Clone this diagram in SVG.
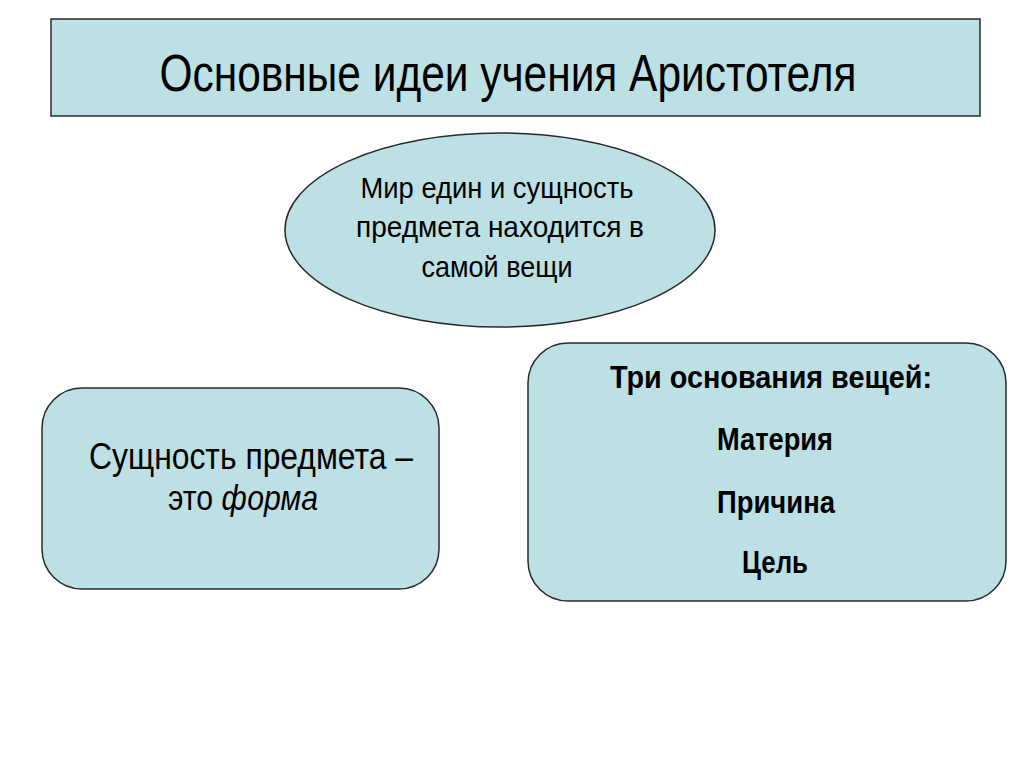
<svg xmlns="http://www.w3.org/2000/svg" width="1024" height="767" viewBox="0 0 1024 767">
<style>
.box{fill:#BCE0E3;stroke:#2a2a2a;stroke-width:1.5}
.t{font-family:"Liberation Sans",Arial,sans-serif;fill:#000;text-anchor:middle}
.b{font-weight:bold}
</style>
<rect width="1024" height="767" fill="#fff"/>
<g id="title">
<rect class="box" x="51" y="19" width="929" height="97"/>
<text class="t" x="508" y="91" font-size="52" textLength="697" lengthAdjust="spacingAndGlyphs">Основные идеи учения Аристотеля</text>
</g>
<g id="world">
<ellipse class="box" cx="500" cy="230" rx="215" ry="97"/>
<text class="t" x="497" y="198" font-size="30" textLength="273" lengthAdjust="spacingAndGlyphs">Мир един и сущность</text>
<text class="t" x="500" y="237" font-size="30" textLength="288" lengthAdjust="spacingAndGlyphs">предмета находится в</text>
<text class="t" x="497" y="277" font-size="30" textLength="151" lengthAdjust="spacingAndGlyphs">самой вещи</text>
</g>
<g id="essence">
<rect class="box" x="42" y="388" width="397" height="201" rx="40"/>
<text class="t" x="251" y="469" font-size="36" textLength="324" lengthAdjust="spacingAndGlyphs">Сущность предмета –</text>
<text class="t" font-size="36" transform="translate(243,510) scale(0.84,1)">это <tspan font-style="italic">форма</tspan></text>
</g>
<g id="three">
<rect class="box" x="528" y="343" width="478" height="258" rx="40"/>
<text class="t b" x="771" y="388" font-size="31" textLength="322" lengthAdjust="spacingAndGlyphs">Три основания вещей:</text>
<text class="t b" x="775" y="450" font-size="31" textLength="116" lengthAdjust="spacingAndGlyphs">Материя</text>
<text class="t b" x="776" y="513" font-size="31" textLength="118" lengthAdjust="spacingAndGlyphs">Причина</text>
<text class="t b" x="775" y="573" font-size="31" textLength="66" lengthAdjust="spacingAndGlyphs">Цель</text>
</g>
<g id="connectors"></g>
</svg>
